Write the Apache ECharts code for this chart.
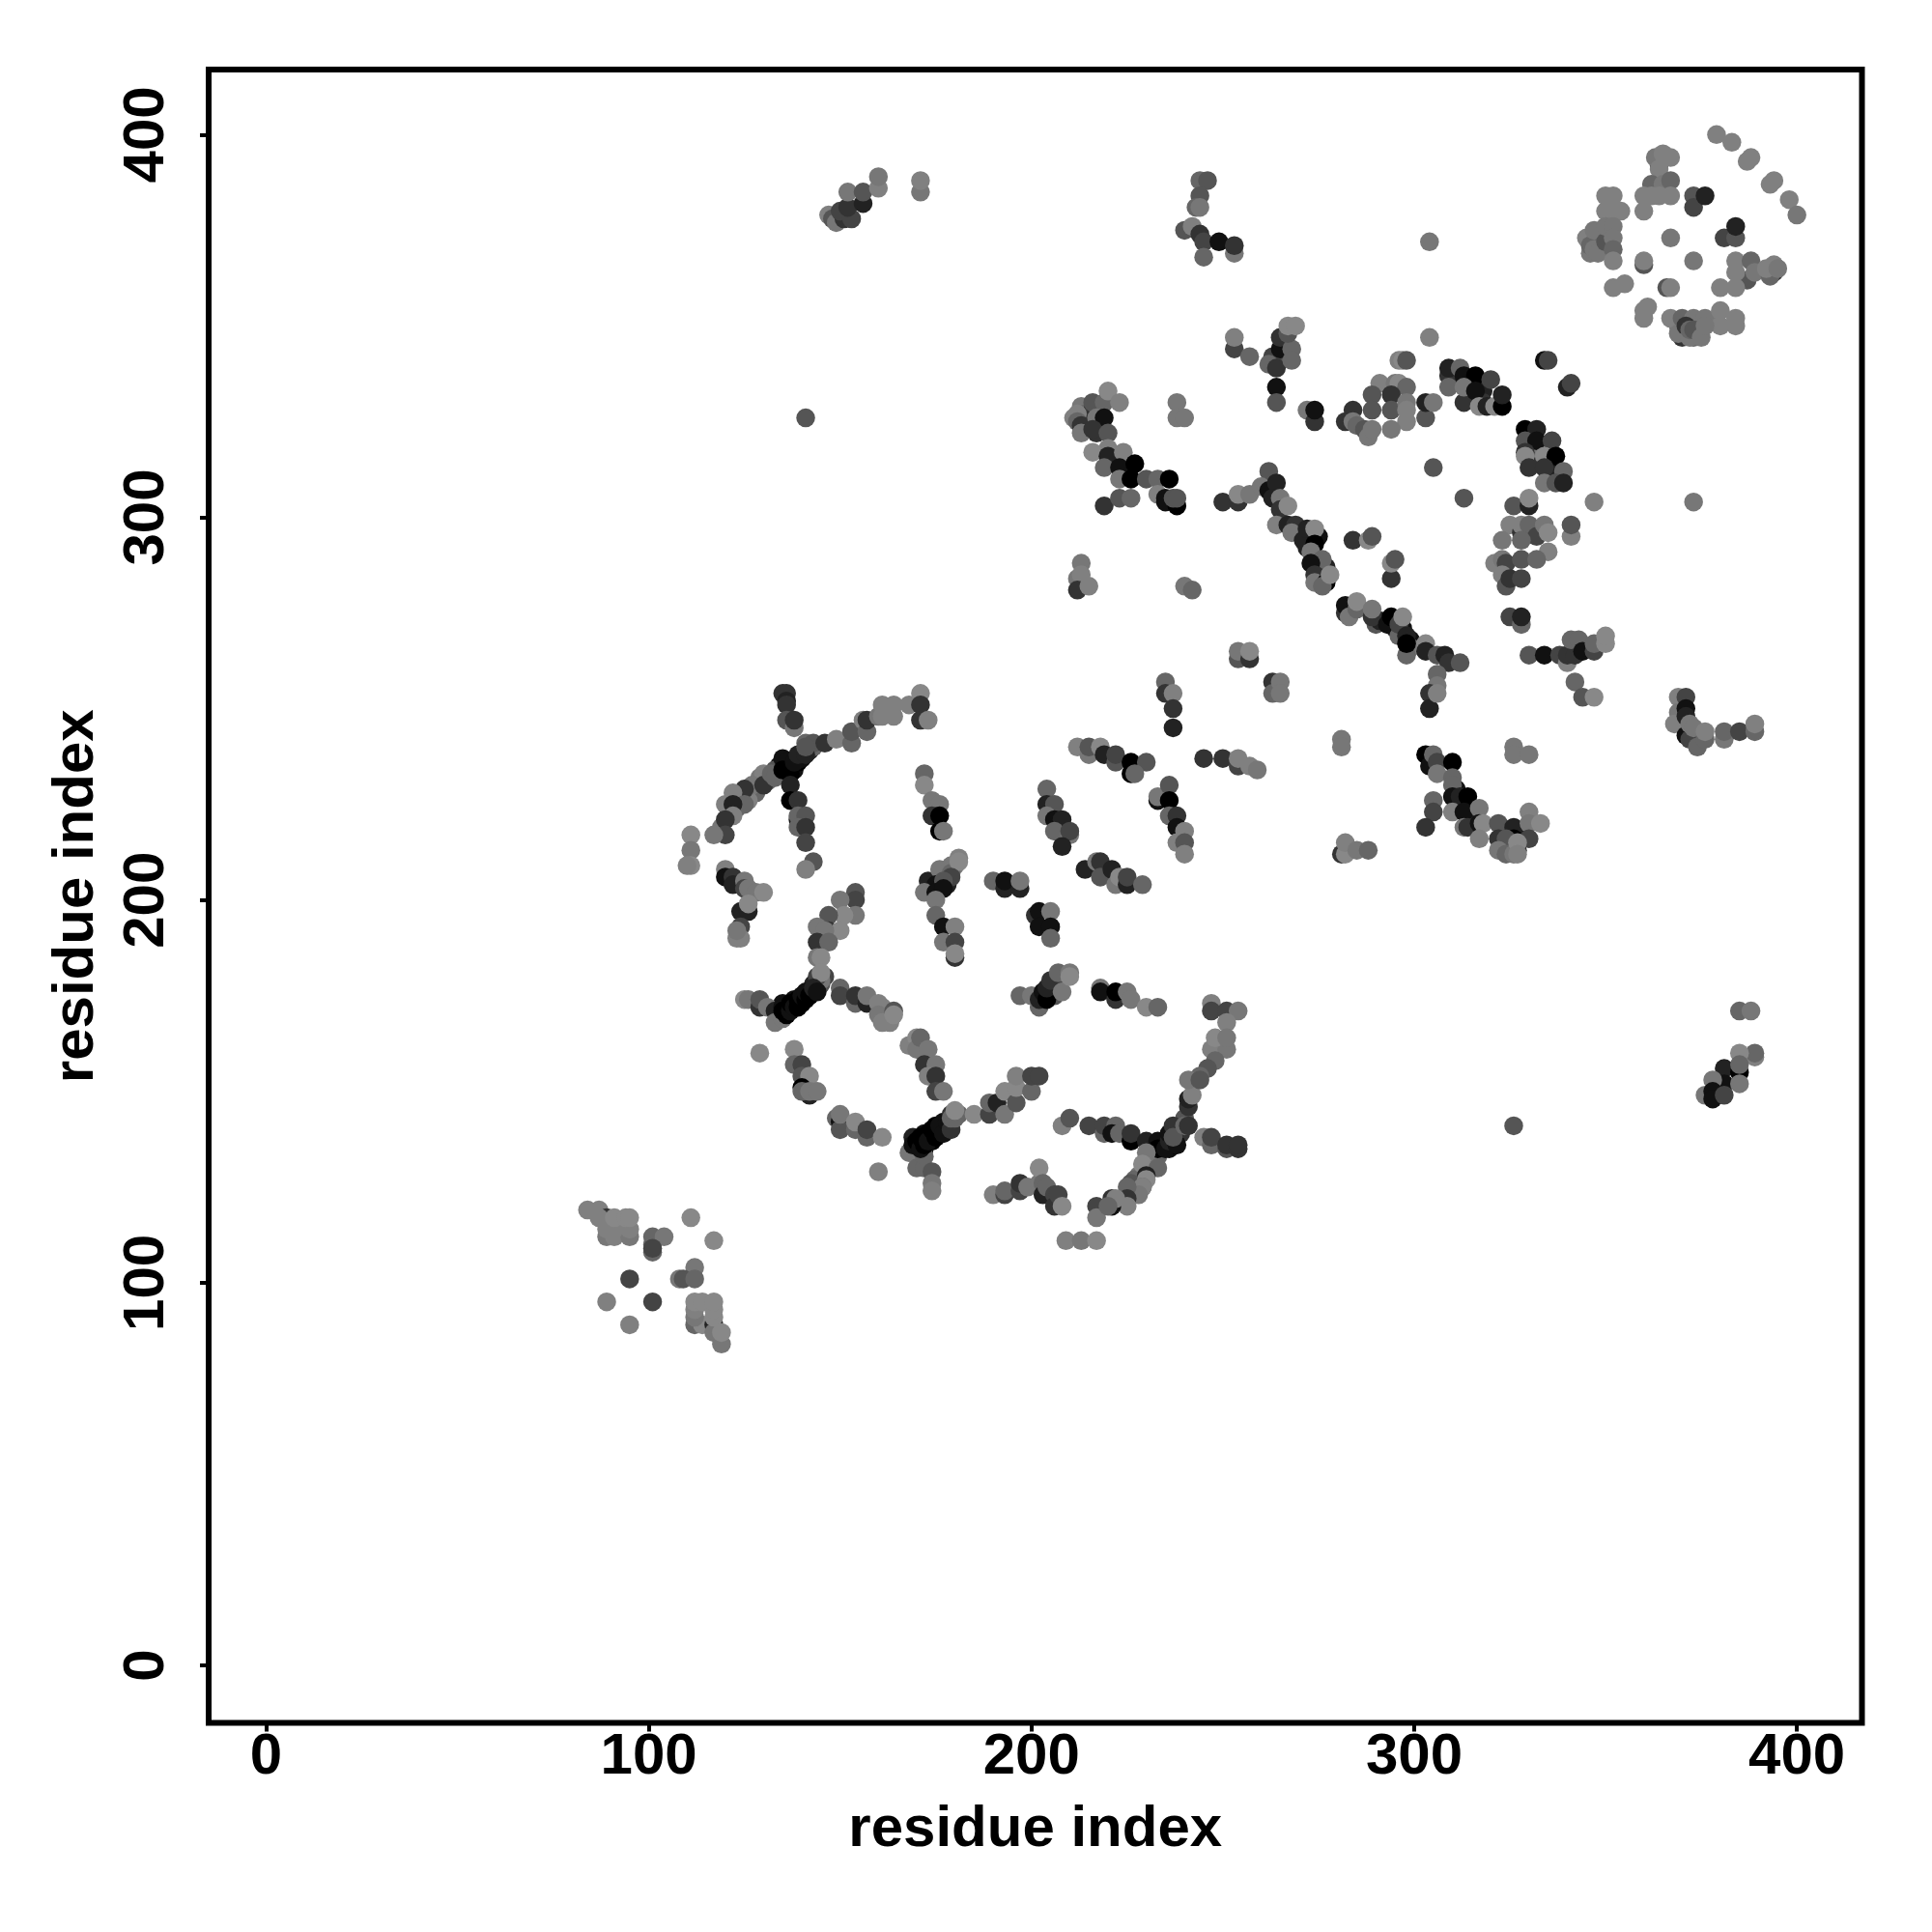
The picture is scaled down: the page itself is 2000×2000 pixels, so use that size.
<!DOCTYPE html>
<html><head><meta charset="utf-8">
<script src="https://cdn.jsdelivr.net/npm/echarts@6/dist/echarts.min.js"></script>
<style>html,body{margin:0;padding:0;background:#fff}#c{width:2000px;height:2000px}</style></head>
<body><div id="c"></div>
<script>
// Each contact: [residue i, residue j, grey level]
const tickValues = [0, 100, 200, 300, 400];
const axisTitle = 'residue index';
const clusterDenseFill = [[134,235,17],[136,233,0],[138,234,17],[139,236,0],[140,237,17],[142,239,34],[133,234,85],[137,236,0],[143,240,102],[134,170,17],[135,173,17],[136,172,0],[138,174,17],[140,173,0],[142,176,0],[143,178,34],[145,178,85],[146,180,68],[145,179,119],[170,134,119],[172,139,17],[174,137,0],[175,141,0],[176,139,17],[177,142,17],[178,140,51],[179,144,51],[181,144,102],[172,135,17],[169,138,34],[232,134,17],[234,136,0],[236,135,17],[237,136,0],[238,138,34],[239,139,51],[239,141,17],[240,143,85],[233,133,102],[231,132,119],[231,130,119],[228,128,119],[227,127,102],[227,124,119],[226,126,85],[211,326,128],[213,329,119],[214,327,102],[215,325,68],[216,326,34],[218,328,68],[218,324,34],[217,322,51],[272,292,34],[275,295,17],[277,287,34],[275,284,17],[276,285,51],[290,272,85],[291,273,34],[295,271,34],[296,270,0],[297,271,17],[299,268,17],[299,266,119],[330,321,17],[333,318,34],[331,315,51],[335,311,17],[337,312,34],[331,318,119],[335,318,136],[312,335,17],[315,335,34],[318,333,34],[315,331,136],[318,330,51],[265,341,51],[266,343,85],[263,340,51],[178,208,102],[176,206,68],[174,203,17],[178,206,85],[173,205,34],[178,204,34],[180,209,119],[369,350,119],[371,348,68],[373,347,102],[374,350,85],[378,351,119],[347,373,102],[345,373,128],[346,369,119],[349,370,119],[349,374,119],[323,215,51],[325,214,17],[328,217,34],[327,213,51],[325,218,17],[311,229,17],[313,225,0],[315,222,17],[316,221,34],[128,228,102],[124,227,119],[126,226,128],[123,224,102],[121,223,51],[119,219,119],[131,231,102],[129,232,119],[203,175,0],[205,177,17],[206,175,85],[206,178,68]];
const clusterBottomLeft = [[84,119,128],[87,119,128],[89,117,51],[87,117,128],[89,112,119],[91,112,128],[95,112,119],[89,114,128],[91,114,128],[95,114,128],[91,117,136],[94,117,136],[95,117,136],[101,108,102],[101,110,102],[101,112,102],[104,112,119],[101,109,68],[111,117,136],[117,111,136],[112,104,119],[108,101,119],[109,101,85],[112,101,102],[95,101,68],[101,95,68],[89,95,128],[95,89,128],[112,89,102],[114,89,136],[117,89,34],[112,91,119],[117,87,119],[112,93,128],[117,91,136],[117,93,136],[112,95,136],[114,95,136],[117,95,136],[119,84,119],[119,87,136]];
const clusterCrossA = [[135,254,51],[136,254,51],[136,252,34],[136,251,51],[136,247,85],[138,245,119],[138,247,51],[141,241,102],[143,241,85],[146,241,51],[149,242,128],[153,241,102],[153,244,85],[156,247,128],[157,244,102],[157,247,51],[160,248,119],[161,248,128],[161,251,128],[164,248,128],[164,251,128],[168,251,128],[171,254,136],[171,251,51],[171,247,51],[173,247,128],[130,233,128],[127,230,119],[130,230,51],[132,233,102],[133,232,102],[135,237,17],[136,236,17],[135,234,0],[137,233,0],[138,236,17],[139,238,34],[141,238,34],[141,240,85],[137,230,34],[137,226,0],[139,226,51],[139,221,17],[139,222,102],[141,222,85],[139,219,102],[141,219,51],[141,215,68],[143,210,85],[141,208,128],[125,229,51],[122,228,128],[125,225,102],[120,225,128],[122,225,34],[122,222,128],[120,221,51],[120,217,68],[117,217,119],[111,217,136],[111,213,119],[111,209,136],[110,209,128]];
const clusterArcB = [[120,208,128],[120,206,17],[122,206,51],[122,204,34],[125,205,119],[125,203,68],[126,203,119],[128,202,119],[130,202,136],[124,197,34],[126,197,34],[126,199,136],[124,193,68],[123,190,128],[124,190,128],[123,192,119],[154,202,85],[154,200,68],[150,200,119],[154,196,119],[151,196,136],[147,196,85],[147,192,51],[150,192,136],[144,193,119],[146,192,119],[144,189,51],[147,189,102],[144,185,119],[145,185,136],[144,180,68],[145,181,136]];
const clusterDiagC = [[125,174,136],[126,174,119],[129,172,51],[129,174,85],[131,172,119],[133,171,34],[133,168,119],[135,169,119],[135,172,17],[135,171,0],[136,170,0],[137,171,17],[137,173,0],[138,172,17],[139,172,0],[139,174,0],[140,175,17],[141,174,0],[141,176,17],[142,175,0],[143,177,34],[144,176,17],[150,177,102],[150,175,68],[154,173,102],[154,175,51],[157,173,34],[157,175,119],[160,173,128],[161,172,128],[160,170,119],[161,168,128],[163,168,128],[164,171,85],[164,170,136]];
const clusterStemD = [[172,233,102],[172,230,136],[174,226,119],[176,225,119],[174,222,51],[176,222,0],[176,218,0],[177,218,119],[176,208,119],[179,209,119],[179,207,102],[181,211,128],[181,210,136],[179,206,68],[175,204,17],[177,205,85],[172,202,119],[175,202,17],[177,203,17],[175,200,119],[175,196,102],[177,193,17],[180,193,128],[177,189,119],[180,189,68],[180,185,51],[180,186,136],[190,205,102],[193,203,34],[193,205,17],[197,203,34],[197,205,119],[201,196,51],[202,197,17],[205,197,119],[202,193,17],[205,193,17],[205,190,102]];
const clusterStripesE = [[204,229,102],[204,225,34],[206,225,85],[204,222,119],[206,221,17],[208,221,34],[206,218,102],[210,217,119],[210,218,68],[208,214,34],[214,208,34],[217,210,119],[218,210,51],[218,206,85],[221,208,34],[222,204,119],[223,206,136],[225,204,34],[225,206,68],[229,204,102],[235,257,102],[235,254,51],[237,254,128],[237,250,51],[237,245,34],[212,240,128],[215,238,119],[215,240,85],[218,240,136],[219,238,34],[222,236,85],[222,238,68],[226,233,0],[226,236,0],[230,236,85],[227,233,102],[245,237,51],[250,237,51],[254,235,68],[254,237,128],[257,235,128],[259,234,119],[263,257,51],[263,254,102],[265,257,119],[265,254,119],[281,242,119],[281,240,119],[281,212,51],[282,212,136],[282,215,128],[285,213,119],[288,213,102],[233,226,17],[233,227,119],[236,230,85],[236,226,0],[236,222,102],[238,222,51],[238,219,17],[240,218,128],[238,215,128],[240,215,85],[240,212,128]];
const clusterLowerF = [[197,175,102],[200,175,119],[202,172,102],[202,174,34],[203,176,17],[204,174,0],[204,177,34],[205,179,51],[208,176,119],[207,181,102],[210,181,119],[210,180,136],[218,177,119],[218,176,17],[222,174,51],[222,176,0],[225,176,119],[226,174,119],[230,172,136],[233,172,102],[247,173,128],[247,171,68],[251,171,68],[254,171,119],[251,168,128],[247,161,128],[251,161,119],[248,164,136],[251,164,119],[248,158,102],[246,156,85],[244,154,102]];
const clusterRingG = [[129,160,136],[138,161,136],[138,157,102],[140,157,68],[140,154,85],[142,154,136],[142,149,34],[140,151,0],[140,150,102],[142,150,119],[144,150,119],[149,143,102],[150,142,17],[150,140,85],[150,144,119],[154,140,102],[154,142,136],[157,138,102],[157,140,68],[161,138,136],[160,129,128],[168,162,128],[170,164,136],[170,161,119],[171,164,102],[173,161,119],[172,157,51],[175,157,119],[173,154,128],[175,154,51],[175,150,68],[177,150,119]];
const clusterCrossH = [[168,134,119],[170,130,102],[172,130,102],[172,133,102],[169,136,17],[170,137,0],[171,135,17],[171,138,0],[172,136,0],[173,139,0],[173,137,17],[174,140,0],[175,138,0],[176,141,17],[177,139,17],[178,142,17],[174,129,85],[174,126,119],[174,124,128],[179,140,51],[179,143,102],[180,143,102],[180,145,136],[185,144,136],[189,144,68],[189,147,102],[191,147,34],[193,144,119],[193,150,136],[196,147,85],[196,151,136],[196,154,128],[200,150,102],[200,154,68],[202,154,68],[190,123,128],[193,123,68],[193,124,102],[197,124,68],[197,126,51],[199,125,119],[202,126,119],[202,130,136],[203,126,102],[203,123,34],[204,125,102],[206,123,68],[206,120,51],[207,123,68],[208,120,136],[209,111,128],[213,111,119],[217,111,136]];
const clusterCrossI = [[208,141,128],[210,143,85],[215,141,68],[219,139,102],[219,141,68],[222,141,102],[221,139,17],[223,139,102],[226,137,0],[226,139,51],[230,137,34],[233,137,17],[233,135,0],[235,135,17],[236,137,34],[236,139,17],[237,141,51],[238,136,17],[237,138,85],[240,141,102],[241,141,51],[241,146,51],[241,148,34],[242,149,128],[241,153,119],[244,153,85],[245,138,128],[247,136,102],[247,138,68],[251,135,85],[251,136,51],[254,135,51],[254,136,51],[230,134,119],[229,131,136],[233,130,102],[230,128,34],[230,127,136],[229,125,102],[229,125,128],[228,123,119],[225,125,102],[225,122,51],[225,120,128],[221,120,17],[221,122,51],[222,122,128],[217,120,68],[217,117,119],[220,120,102]];
const clusterUpperJ = [[253,344,68],[253,347,128],[257,342,102],[263,342,68],[262,340,102],[264,339,51],[265,344,17],[265,347,51],[268,344,102],[268,341,102],[267,348,85],[267,350,136],[269,350,136],[264,334,17],[264,330,85],[272,328,119],[274,325,51],[274,328,17],[304,347,128],[296,341,128],[297,341,136],[298,341,85],[291,335,128],[295,335,119],[296,335,136],[298,334,102],[289,332,85],[294,332,51],[284,328,51],[289,328,85],[294,328,85],[298,330,119],[298,328,128],[298,325,128],[303,326,85],[303,330,34],[305,330,119],[282,325,51],[284,325,119],[285,324,102],[287,323,85],[288,321,119],[289,323,119],[294,323,119],[305,313,85],[309,337,51],[309,334,102],[309,339,34],[312,339,102],[313,337,17],[316,337,0],[320,336,68],[313,330,51],[313,334,119],[316,333,17],[317,329,136],[319,329,34],[321,329,136],[323,329,0],[323,332,34],[334,341,17],[335,341,68],[340,334,34],[341,335,68]];
const clusterLeftK = [[216,328,51],[216,330,85],[219,330,102],[220,333,136],[223,330,128],[212,327,128],[212,325,102],[213,324,51],[217,326,119],[219,326,17],[213,322,119],[216,323,51],[220,322,85],[220,318,128],[216,317,136],[220,316,34],[224,317,128],[219,313,102],[223,313,17],[227,314,0],[223,310,119],[226,310,0],[230,310,85],[233,310,102],[236,310,0],[233,306,128],[235,305,17],[235,304,17],[238,303,0],[237,305,85],[238,305,85],[219,303,51],[223,305,85],[226,305,102],[238,330,119],[238,326,119],[240,326,119],[250,304,51],[254,304,51],[254,306,136],[257,306,119],[262,312,85],[260,308,119],[262,307,17],[264,309,34],[263,305,34],[265,305,119],[265,302,51],[267,303,136]];
const clusterDiagL = [[264,298,128],[267,298,34],[269,298,51],[268,296,119],[271,294,34],[272,297,34],[274,297,136],[274,293,0],[273,291,119],[276,289,102],[273,288,17],[274,285,51],[274,283,119],[277,283,0],[276,282,102],[278,285,136],[284,294,51],[288,294,136],[289,295,85],[294,284,51],[294,288,136],[295,289,85],[282,275,51],[282,277,17],[283,274,119],[285,276,102],[285,278,136],[289,274,51],[289,276,119],[293,272,17],[294,274,0],[296,269,102],[296,272,68],[297,274,136],[298,269,34],[298,264,102],[298,267,0],[303,267,136],[303,265,34],[306,264,85],[308,264,34],[309,262,51],[312,262,85],[306,259,102],[306,256,119],[304,254,51],[304,250,34],[306,254,128],[213,288,119],[212,284,119],[213,285,128],[212,281,51],[215,282,128],[240,282,119],[242,281,102],[254,263,85],[254,265,119],[257,263,51],[257,265,136]];
const clusterRightM = [[329,323,0],[332,323,34],[329,320,85],[332,320,17],[336,320,68],[329,317,51],[329,316,136],[334,316,136],[337,316,0],[330,313,51],[334,313,51],[339,312,102],[334,309,119],[337,309,85],[339,309,34],[347,304,128],[313,305,85],[326,303,85],[330,303,34],[330,305,136],[325,298,128],[328,296,51],[328,298,128],[330,298,102],[332,295,68],[334,298,119],[335,291,128],[335,296,136],[323,294,119],[328,294,102],[341,295,128],[341,298,85],[321,288,128],[323,289,119],[324,288,68],[328,289,85],[332,289,102],[323,285,128],[324,282,85],[325,284,51],[328,284,68],[325,274,68],[328,272,102],[328,274,34],[330,264,85],[334,264,17],[338,264,68],[340,262,128],[340,264,51],[342,264,51],[341,268,102],[343,268,102],[344,265,17],[347,265,68],[347,267,102],[350,267,136],[350,269,136],[342,257,102],[344,253,85],[347,253,136]];
const clusterCrossN = [[303,238,0],[304,235,17],[305,238,102],[306,236,68],[306,233,119],[310,236,0],[310,232,102],[310,230,102],[310,227,17],[312,227,34],[314,227,0],[305,226,102],[305,223,68],[303,219,51],[310,223,128],[313,223,17],[317,224,119],[313,219,119],[314,219,51],[317,220,17],[318,220,136],[317,216,128],[326,240,119],[326,238,119],[330,238,119],[322,220,85],[326,219,34],[330,223,128],[330,220,119],[330,216,68],[322,216,51],[326,216,0],[324,216,85],[322,213,119],[324,212,102],[326,212,119],[327,215,136],[327,212,128],[333,220,136]];
const clusterRightO = [[369,253,128],[371,253,68],[369,249,119],[371,250,17],[368,246,128],[371,248,34],[371,243,17],[372,242,68],[372,246,119],[373,245,119],[374,240,102],[376,242,102],[376,244,128],[381,242,119],[381,244,102],[385,244,68],[389,244,102],[389,246,128],[326,141,85],[385,171,102],[388,171,119],[389,159,128],[389,160,102],[385,160,136],[381,156,34],[385,155,0],[385,157,102],[381,152,17],[385,152,119],[378,153,119],[376,149,119],[378,150,17],[378,148,17],[381,149,68]];
const clusterTopP = [[147,379,128],[148,378,85],[149,377,119],[151,378,51],[150,380,68],[153,378,68],[152,381,51],[152,385,119],[156,382,34],[156,385,85],[160,386,128],[160,389,119],[171,385,119],[171,388,128],[244,388,102],[246,388,85],[244,384,85],[243,381,102],[244,381,119],[240,375,85],[242,376,128],[244,374,51],[245,372,68],[245,368,102],[249,372,17],[253,369,119],[253,371,51],[304,372,119],[141,326,85],[373,304,119]];
const clusterCornerQ = [[379,400,128],[383,398,128],[387,393,128],[388,394,128],[393,387,128],[394,388,128],[398,383,128],[400,379,119],[364,392,68],[363,394,119],[365,395,128],[367,394,128],[364,391,128],[362,387,102],[365,387,119],[367,388,102],[360,384,128],[362,384,128],[364,384,128],[367,384,128],[360,380,128],[373,384,85],[373,381,68],[376,384,34],[350,384,128],[352,384,128],[350,380,128],[352,380,128],[354,380,128],[347,371,68],[346,371,102],[347,370,119],[348,369,119],[347,375,119],[350,372,85],[350,376,119],[352,376,119],[352,373,119],[352,370,102],[352,367,128],[367,373,119],[360,366,85],[360,367,128],[373,367,119],[381,373,68],[384,373,85],[384,376,34],[384,367,128],[388,367,102],[387,362,85],[384,364,128],[380,360,128],[384,360,128],[389,364,119],[394,364,51],[393,363,102],[392,365,128],[394,366,128],[395,365,119],[352,360,128],[355,361,128],[366,360,85],[367,360,128],[360,352,128],[360,354,128],[361,355,128],[367,352,128],[370,352,102],[373,352,119],[376,352,119],[380,354,128],[380,350,128],[384,352,128],[384,350,128],[370,347,51],[369,348,119],[371,350,51],[372,347,119],[372,349,102],[373,349,85],[375,347,119],[376,350,119]];
const clusters = [clusterDenseFill,clusterBottomLeft,clusterCrossA,clusterArcB,clusterDiagC,clusterStemD,clusterStripesE,clusterLowerF,clusterRingG,clusterCrossH,clusterCrossI,clusterUpperJ,clusterLeftK,clusterDiagL,clusterRightM,clusterCrossN,clusterRightO,clusterTopP,clusterCornerQ];
const contacts = clusters.flat();

const font = '"Liberation Sans", Arial, sans-serif';
const chart = echarts.init(document.getElementById('c'), null, {renderer: 'canvas'});
const axisBase = {
  type: 'value', min: -15, max: 417, name: axisTitle, nameLocation: 'middle',
  nameTextStyle: {fontFamily: font, fontWeight: 'bold', fontSize: 60, color: '#000'},
  splitLine: {show: false}, axisLine: {show: false, onZero: false},
  axisTick: {show: true, length: 9, inside: false, customValues: tickValues, lineStyle: {color: '#000', width: 4}},
  axisLabel: {customValues: tickValues, fontFamily: font, fontWeight: 'bold', fontSize: 60, color: '#000',
              showMinLabel: true, showMaxLabel: true}
};
chart.setOption({
  animation: false,
  backgroundColor: '#fff',
  grid: {left: 216, top: 72, width: 1711.5, height: 1711.5, show: true, borderColor: '#000', borderWidth: 6, backgroundColor: 'transparent'},
  xAxis: Object.assign({}, axisBase, {nameGap: 81, axisLabel: Object.assign({}, axisBase.axisLabel, {margin: 6})}),
  yAxis: Object.assign({}, axisBase, {nameGap: 107, nameRotate: 90, axisLabel: Object.assign({}, axisBase.axisLabel, {rotate: 90, margin: 33.5})}),
  series: [{
    type: 'scatter', data: contacts, symbol: 'circle', symbolSize: 19.5, silent: true, large: false, progressive: 0,
    itemStyle: {opacity: 1, color: p => { const g = p.value[2]; return 'rgb(' + g + ',' + g + ',' + g + ')'; }}
  }]
});
</script></body></html>
